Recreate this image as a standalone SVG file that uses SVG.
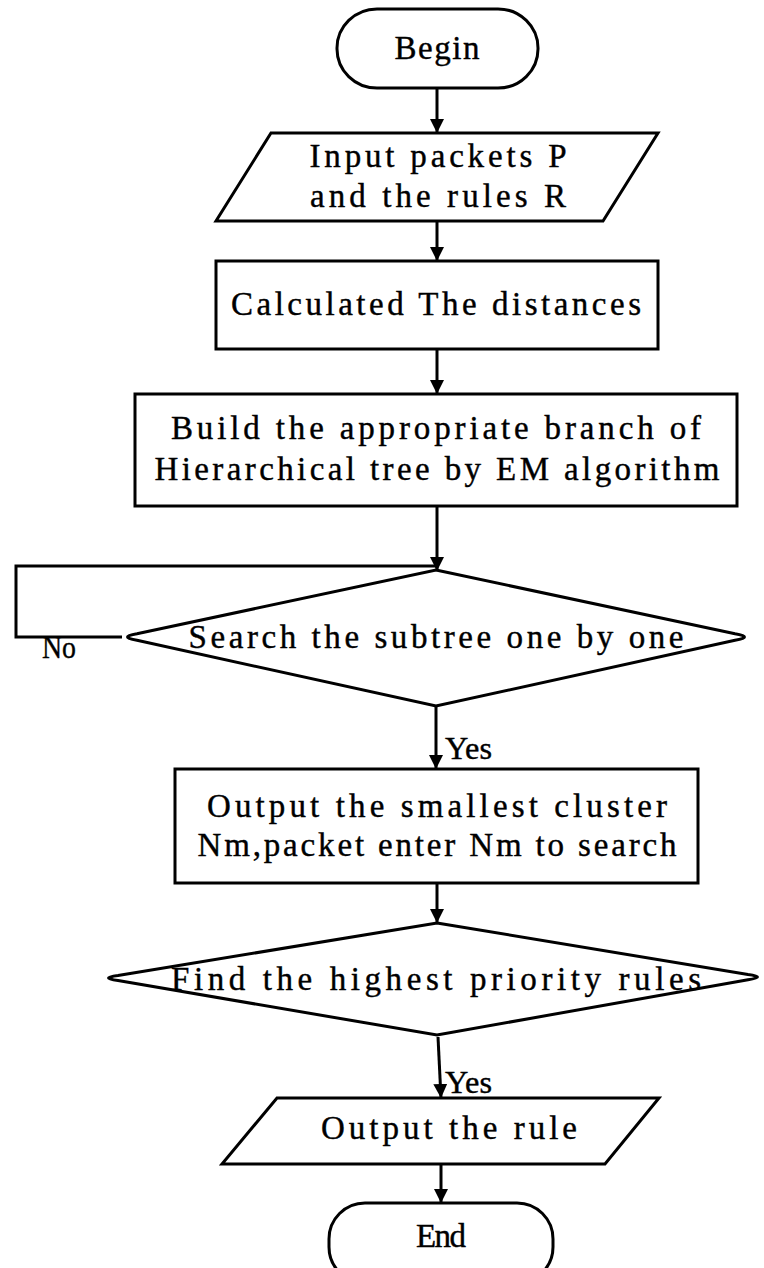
<svg xmlns="http://www.w3.org/2000/svg" width="764" height="1268" viewBox="0 0 764 1268">
  <style>
    .shape { fill: #ffffff; stroke: #000000; stroke-width: 3; stroke-linejoin: miter; }
    .edge { fill: none; stroke: #000000; stroke-width: 3; }
    .label { font-family: "Liberation Serif", "Times New Roman", serif; font-size: 33px; fill: #000000; stroke: #000000; stroke-width: 0.4; text-anchor: middle; }
    .tag { font-family: "Liberation Serif", "Times New Roman", serif; font-size: 31px; fill: #000000; stroke: #000000; stroke-width: 0.4; }
  </style>
  <defs>
    <marker id="arrow" markerUnits="userSpaceOnUse" markerWidth="14" markerHeight="14" refX="14" refY="7" orient="auto">
      <path d="M0,0 L14,7 L0,14 Z" fill="#000000"/>
    </marker>
  </defs>
  <rect width="764" height="1268" fill="#ffffff"/>

  <!-- connectors -->
  <g id="connectors">
    <line class="edge" x1="437" y1="88" x2="437" y2="133" marker-end="url(#arrow)"/>
    <line class="edge" x1="437" y1="221" x2="437" y2="261" marker-end="url(#arrow)"/>
    <line class="edge" x1="437" y1="349" x2="437" y2="394" marker-end="url(#arrow)"/>
    <line class="edge" x1="437" y1="506" x2="437" y2="571" marker-end="url(#arrow)"/>
    <polyline class="edge" points="122,637 16,637 16,566 437,566"/>
    <line class="edge" x1="436" y1="706" x2="436" y2="769" marker-end="url(#arrow)"/>
    <line class="edge" x1="437" y1="883" x2="437" y2="923" marker-end="url(#arrow)"/>
    <line class="edge" x1="438" y1="1037" x2="441" y2="1098" marker-end="url(#arrow)"/>
    <line class="edge" x1="441" y1="1164" x2="441" y2="1203" marker-end="url(#arrow)"/>
    <text class="tag" x="42" y="658" textLength="34" lengthAdjust="spacingAndGlyphs">No</text>
    <text class="tag" x="445" y="759" textLength="47" lengthAdjust="spacingAndGlyphs">Yes</text>
    <text class="tag" x="445" y="1093" textLength="47" lengthAdjust="spacingAndGlyphs">Yes</text>
  </g>

  <!-- start -->
  <g id="begin">
    <rect class="shape" x="337" y="9" width="201" height="79" rx="40" ry="39"/>
    <text class="label" x="437" y="59" textLength="85" lengthAdjust="spacing">Begin</text>
  </g>

  <!-- input -->
  <g id="input">
    <polygon class="shape" points="271,133 658,133 603,221 216,221"/>
    <text class="label" x="438" y="167" textLength="257" lengthAdjust="spacing">Input packets P</text>
    <text class="label" x="438" y="207" textLength="256" lengthAdjust="spacing">and the rules R</text>
  </g>

  <!-- distance step -->
  <g id="distances">
    <rect class="shape" x="216" y="261" width="442" height="88"/>
    <text class="label" x="436" y="315" textLength="410" lengthAdjust="spacing">Calculated The distances</text>
  </g>

  <!-- tree construction -->
  <g id="build">
    <rect class="shape" x="135" y="394" width="602" height="112"/>
    <text class="label" x="436" y="439" textLength="530" lengthAdjust="spacing">Build the appropriate branch of</text>
    <text class="label" x="437" y="480" textLength="565" lengthAdjust="spacing">Hierarchical tree by EM algorithm</text>
  </g>

  <!-- subtree search decision -->
  <g id="search">
    <path class="shape" d="M436,570 L735,633.8 Q754,637 735,640.3 L436,706 L137,640.3 Q118,637 137,633.8 Z"/>
    <text class="label" x="436" y="648" textLength="495" lengthAdjust="spacing">Search the subtree one by one</text>
  </g>

  <!-- smallest cluster -->
  <g id="cluster">
    <rect class="shape" x="175" y="769" width="523" height="114"/>
    <text class="label" x="437" y="817" textLength="460" lengthAdjust="spacing">Output the smallest cluster</text>
    <text class="label" x="437" y="856" textLength="479" lengthAdjust="spacing">Nm,packet enter Nm to search</text>
  </g>

  <!-- priority decision -->
  <g id="priority">
    <path class="shape" d="M437,923 L748,974.5 Q767,977 748,979.7 L437,1035 L118,980.6 Q99,978 118,975.5 Z"/>
    <text class="label" x="436" y="990" textLength="530" lengthAdjust="spacing">Find the highest priority rules</text>
  </g>

  <!-- output -->
  <g id="output">
    <polygon class="shape" points="277,1098 659,1098 605,1164 222,1164"/>
    <text class="label" x="449" y="1139" textLength="256" lengthAdjust="spacing">Output the rule</text>
  </g>

  <!-- end -->
  <g id="end">
    <rect class="shape" x="329" y="1203" width="224" height="80" rx="36" ry="36"/>
    <text class="label" x="441" y="1247" textLength="50" lengthAdjust="spacing">End</text>
  </g>
</svg>
